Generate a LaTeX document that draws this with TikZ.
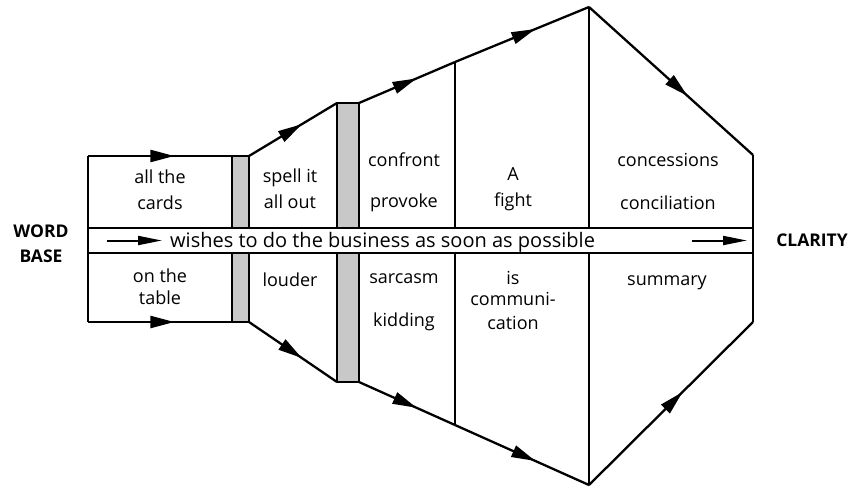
\documentclass[tikz,border=0pt]{standalone}
\usepackage{fontspec}
\setmainfont{Open Sans}
\usetikzlibrary{arrows.meta,decorations.markings}
\definecolor{bargray}{RGB}{200,200,200}
\tikzset{
	midarrow/.style={postaction={decorate},decoration={markings,
		mark=at position #1 with {\arrow{Triangle[length=24pt,width=12pt]}}}},
	midarrow/.default=0.6,
	lbl/.style={font=\fontsize{18}{20}\selectfont,anchor=base,inner sep=0pt},
	bold/.style={font=\fontsize{17.5}{20}\selectfont\bfseries,anchor=base,inner sep=0pt},
	bandarrow/.style={line width=2pt,-{Triangle[length=24pt,width=9pt]}},
}
\begin{document}
\begin{tikzpicture}[x=1pt,y=-1pt,line join=round,line width=2.3pt]
	%==khung
	\useasboundingbox (0,0) rectangle (859,488);
	%==canh tren
	\draw[midarrow] (88,156)coordinate(A)--(232,156)coordinate(B);
	\draw[midarrow] (249,156)coordinate(C)--(337,103)coordinate(D);
	\draw[midarrow] (359,103)coordinate(E)--(455,62)coordinate(F);
	\draw[midarrow] (F)--(589,7)coordinate(G);
	\draw[midarrow] (G)--(753,155)coordinate(H);
	%==canh duoi
	\draw[midarrow] (88,322)coordinate(A1)--(232,322)coordinate(B1);
	\draw[midarrow] (249,322)coordinate(C1)--(337,382)coordinate(D1);
	\draw[midarrow] (359,382)coordinate(E1)--(455,425)coordinate(F1);
	\draw[midarrow] (F1)--(589,485)coordinate(G1);
	\draw[midarrow=0.57] (G1)--(753,322)coordinate(H1);
	%==doc
	\draw (A)--(A1);
	\draw (F)--(F1);
	\draw (G)--(G1);
	\draw (H)--(H1);
	\draw[fill=bargray] (B) rectangle (C1);
	\draw[fill=bargray] (D) rectangle (E1);
	%==dai giua
	\draw[fill=white] (88,228)coordinate(L) rectangle (753,253)coordinate(R);
	\draw[bandarrow] (107,240.5)coordinate(a1)--(162,240.5)coordinate(a2);
	\draw[bandarrow] (692,240.5)coordinate(b1)--(747,240.5)coordinate(b2);
	\node[lbl,font=\fontsize{20}{22}\selectfont,anchor=base west] (wish) at (169,247) {wishes to do the business as soon as possible};
	%==chu
	\node[bold] (word) at (41,237) {WORD};
	\node[bold] (base) at (41,262) {BASE};
	\node[bold] (clarity) at (812,246) {CLARITY};
	\node[lbl] (allthe) at (160,183) {all the};
	\node[lbl] (cards) at (160,209) {cards};
	\node[lbl] (onthe) at (160,282) {on the};
	\node[lbl] (table) at (160,304) {table};
	\node[lbl] (spell) at (290,182) {spell it};
	\node[lbl] (allout) at (290,208) {all out};
	\node[lbl] (louder) at (290,286) {louder};
	\node[lbl] (confront) at (404,166) {confront};
	\node[lbl] (provoke) at (404,207) {provoke};
	\node[lbl] (sarcasm) at (404,283) {sarcasm};
	\node[lbl] (kidding) at (404,326) {kidding};
	\node[lbl] (A) at (513,180) {A};
	\node[lbl] (fight) at (513,206) {fight};
	\node[lbl] (is) at (513,284) {is};
	\node[lbl] (communi) at (513,305) {communi-};
	\node[lbl] (cation) at (513,329) {cation};
	\node[lbl] (concess) at (668,166) {concessions};
	\node[lbl] (concil) at (668,209) {conciliation};
	\node[lbl] (summary) at (667,285) {summary};
\end{tikzpicture}
\end{document}
